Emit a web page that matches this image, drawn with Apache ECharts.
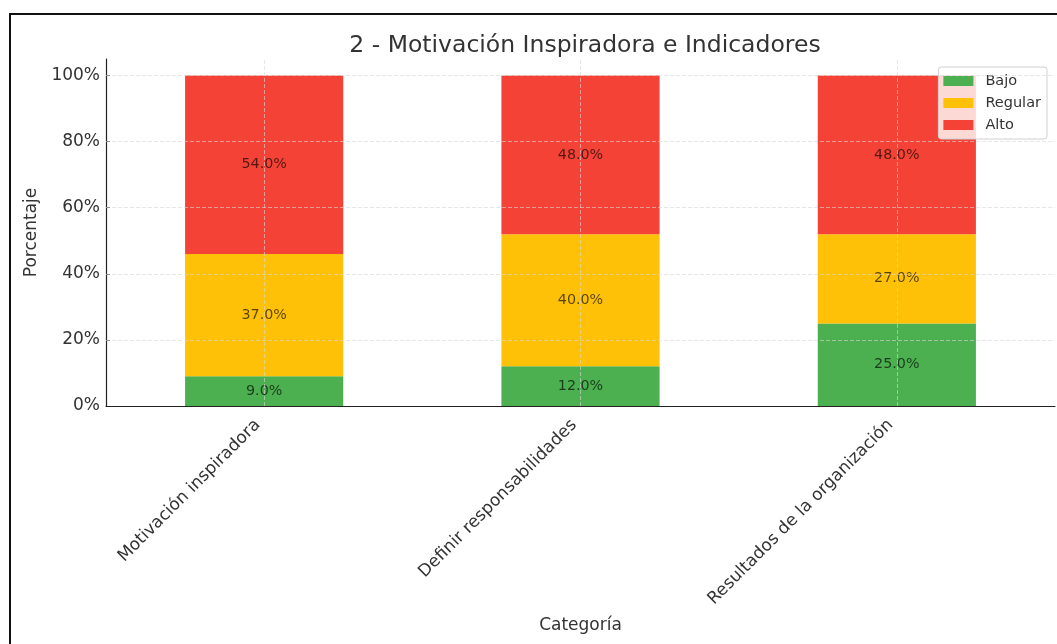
<!DOCTYPE html>
<html>
<head>
<meta charset="utf-8">
<script src="https://cdn.jsdelivr.net/npm/echarts@6/dist/echarts.min.js"></script>
<style>
  html, body { margin: 0; padding: 0; background: #fff; }
  #chart { width: 1057px; height: 644px; }
</style>
</head>
<body>
<div id="chart"></div>
<script>
// Categories and the share (%) of each level per category
const categories = ['Motivación inspiradora', 'Definir responsabilidades', 'Resultados de la organización'];
const bajo = [9, 12, 25];
const regular = [37, 40, 27];
const alto = [54, 48, 48];
const seriesNames = ['Bajo', 'Regular', 'Alto'];
const yTicks = [20, 40, 60, 80, 100];

const FONT = 'DejaVu Sans';
const colors = { Bajo: '#4CAF50', Regular: '#FFC107', Alto: '#F44336' };

const chart = echarts.init(document.getElementById('chart'), null, { renderer: 'canvas' });

function barSeries(name, values) {
  return {
    name: name,
    type: 'bar',
    stack: 'total',
    barWidth: '50%',
    data: values,
    itemStyle: { color: colors[name] },
    label: {
      show: true,
      position: 'inside',
      fontFamily: FONT,
      fontSize: 14.3,
      color: 'rgba(0,0,0,0.65)',
      formatter: p => p.value.toFixed(1) + '%'
    }
  };
}

const gridStyle = { color: 'rgba(215,215,215,0.6)', type: [4, 2], width: 1 };

chart.setOption({
  animation: false,
  backgroundColor: '#fff',
  textStyle: { fontFamily: FONT },
  title: {
    text: '2 - Motivación Inspiradora e Indicadores',
    left: 580,
    top: 29,
    textAlign: 'center',
    textStyle: { fontFamily: FONT, fontSize: 23.5, fontWeight: 'normal', color: '#333' }
  },
  legend: {
    data: seriesNames,
    orient: 'vertical',
    right: 10,
    top: 67,
    itemWidth: 30,
    itemHeight: 10,
    itemGap: 6,
    padding: [6, 6, 6, 5],
    borderColor: '#d0d0d0',
    borderWidth: 1,
    borderRadius: 3,
    backgroundColor: 'rgba(255,255,255,0.8)',
    icon: 'rect',
    textStyle: { fontFamily: FONT, fontSize: 14.5, color: '#333', lineHeight: 16, padding: [0, 0, 0, 7] }
  },
  grid: { left: 106, right: 2, top: 59, bottom: 238 },
  xAxis: {
    type: 'category',
    data: categories,
    name: 'Categoría',
    nameLocation: 'middle',
    nameGap: 211,
    nameTextStyle: { fontFamily: FONT, fontSize: 17, color: '#333' },
    axisLine: { lineStyle: { color: '#222', width: 1.2 } },
    axisTick: { show: true, inside: true, alignWithLabel: true, length: 4, lineStyle: { color: '#222' } },
    axisLabel: { rotate: 45, fontFamily: FONT, fontSize: 17, color: '#333', margin: 10, padding: [0, 9, 0, 0] },
    splitLine: { show: false }
  },
  yAxis: {
    type: 'value',
    min: 0,
    max: 105,
    interval: 20,
    name: 'Porcentaje',
    nameLocation: 'middle',
    nameGap: 60,
    nameRotate: 90,
    nameTextStyle: { fontFamily: FONT, fontSize: 17, color: '#333' },
    axisLine: { show: true, lineStyle: { color: '#222', width: 1.2 } },
    axisTick: { show: true, inside: true, length: 4, lineStyle: { color: '#222' } },
    axisLabel: {
      fontFamily: FONT, fontSize: 17, color: '#333', margin: 6,
      showMaxLabel: false,
      formatter: v => v + '%'
    },
    splitLine: { show: false }
  },
  series: [
    barSeries('Bajo', bajo),
    barSeries('Regular', regular),
    barSeries('Alto', alto),
    {
      // grid lines drawn over the bars
      name: 'grid',
      type: 'line',
      data: [],
      z: 10,
      silent: true,
      markLine: {
        silent: true,
        symbol: 'none',
        label: { show: false },
        lineStyle: gridStyle,
        data: yTicks.map(v => ({ yAxis: v })).concat(categories.map(c => ({ xAxis: c })))
      }
    }
  ],
  graphic: [{
    type: 'rect',
    shape: { x: 10, y: 14, width: 1100, height: 700 },
    style: { fill: 'none', stroke: '#111', lineWidth: 2 },
    z: 100,
    silent: true
  }]
});
</script>
</body>
</html>
